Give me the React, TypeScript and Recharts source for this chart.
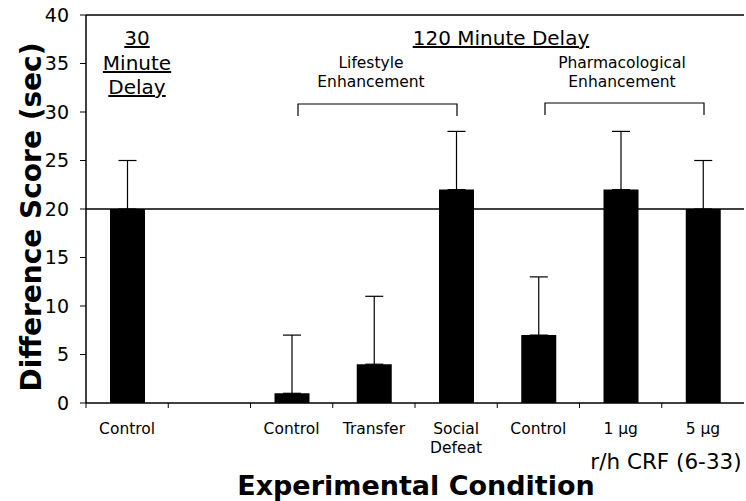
import React from "react";
import {
  BarChart,
  Bar,
  XAxis,
  YAxis,
  ErrorBar,
  ReferenceLine,
} from "recharts";

// conditions left to right; the empty slot separates the 30 and 120 min groups
const conditionLabels = ["Control", "", "Control", "Transfer", "Social\nDefeat", "Control", "1 µg", "5 µg"];
const meanScores = [20, null, 1, 4, 22, 7, 22, 20];
const errorUp = [5, null, 6, 7, 6, 6, 6, 5];
const yTicks = [0, 5, 10, 15, 20, 25, 30, 35, 40];

const data = conditionLabels.map((label, i) => ({
  id: `c${i}`,
  label,
  score: meanScores[i],
  err: errorUp[i] == null ? null : [0, errorUp[i]],
}));

const FONT = "'DejaVu Sans', Verdana, sans-serif";

function ConditionTick(props: any) {
  const { x, y, payload, index } = props;
  const half = payload.offset ?? 41;
  const label = data[index]?.label ?? "";
  const lines = label.split("\n");
  return (
    <g>
      <line x1={x - half} y1={y} x2={x - half} y2={y + 5} stroke="#000" strokeWidth={1} />
      <text x={x} y={y + 31} textAnchor="middle" fontFamily={FONT} fontSize={15.5} fill="#000">
        {lines.map((ln: string, k: number) => (
          <tspan key={k} x={x} dy={k === 0 ? 0 : 19}>
            {ln}
          </tspan>
        ))}
      </text>
    </g>
  );
}

export default function App() {
  return (
    <div style={{ position: "absolute", left: 0, top: 0, width: 746, height: 501, background: "#fff" }}>
      <BarChart
        width={746}
        height={501}
        data={data}
        margin={{ top: 15, right: 2, bottom: 38, left: 0 }}
        barSize={35}
      >
        <XAxis
          dataKey="id"
          height={60}
          axisLine={{ stroke: "#000", strokeWidth: 1.5 }}
          tickLine={false}
          tickSize={0}
          tickMargin={0}
          interval={0}
          tick={<ConditionTick />}
        />
        <YAxis
          width={86}
          domain={[0, 40]}
          ticks={yTicks}
          interval={0}
          axisLine={{ stroke: "#000", strokeWidth: 1.5 }}
          tickLine={{ stroke: "#000" }}
          tickSize={6}
          tickMargin={11}
          tick={{ fill: "#000", fontSize: 19, fontFamily: FONT }}
        />
        <ReferenceLine y={40} stroke="#000" strokeWidth={1.5} />
        <ReferenceLine y={20} stroke="#000" strokeWidth={1.5} />
        <Bar dataKey="score" fill="#000" isAnimationActive={false}>
          <ErrorBar dataKey="err" width={9} stroke="#000" strokeWidth={1.2} direction="y" />
        </Bar>
      </BarChart>
      <svg
        width={746}
        height={501}
        style={{ position: "absolute", left: 0, top: 0, pointerEvents: "none" }}
        fontFamily={FONT}
      >
        <g fontSize={20} textAnchor="middle" textDecoration="underline">
          <text x={137} y={45}>30</text>
          <text x={137} y={70}>Minute</text>
          <text x={137} y={94}>Delay</text>
          <text x={501} y={45}>120 Minute Delay</text>
        </g>
        <g fontSize={15.5} textAnchor="middle">
          <text x={371} y={68}>Lifestyle</text>
          <text x={371} y={87}>Enhancement</text>
          <text x={622} y={68}>Pharmacological</text>
          <text x={622} y={87}>Enhancement</text>
        </g>
        <path d="M298 116 V104 H457 V116" fill="none" stroke="#000" strokeWidth={1.2} />
        <path d="M545 115 V103 H704 V115" fill="none" stroke="#000" strokeWidth={1.2} />
        <text x={666} y={469} fontSize={21.5} textAnchor="middle">r/h CRF (6-33)</text>
        <text x={416} y={495} fontSize={27} fontWeight="bold" textAnchor="middle">
          Experimental Condition
        </text>
        <text
          x={0}
          y={0}
          fontSize={28}
          fontWeight="bold"
          textAnchor="middle"
          transform="translate(41 217) rotate(-90)"
        >
          Difference Score (sec)
        </text>
      </svg>
    </div>
  );
}
